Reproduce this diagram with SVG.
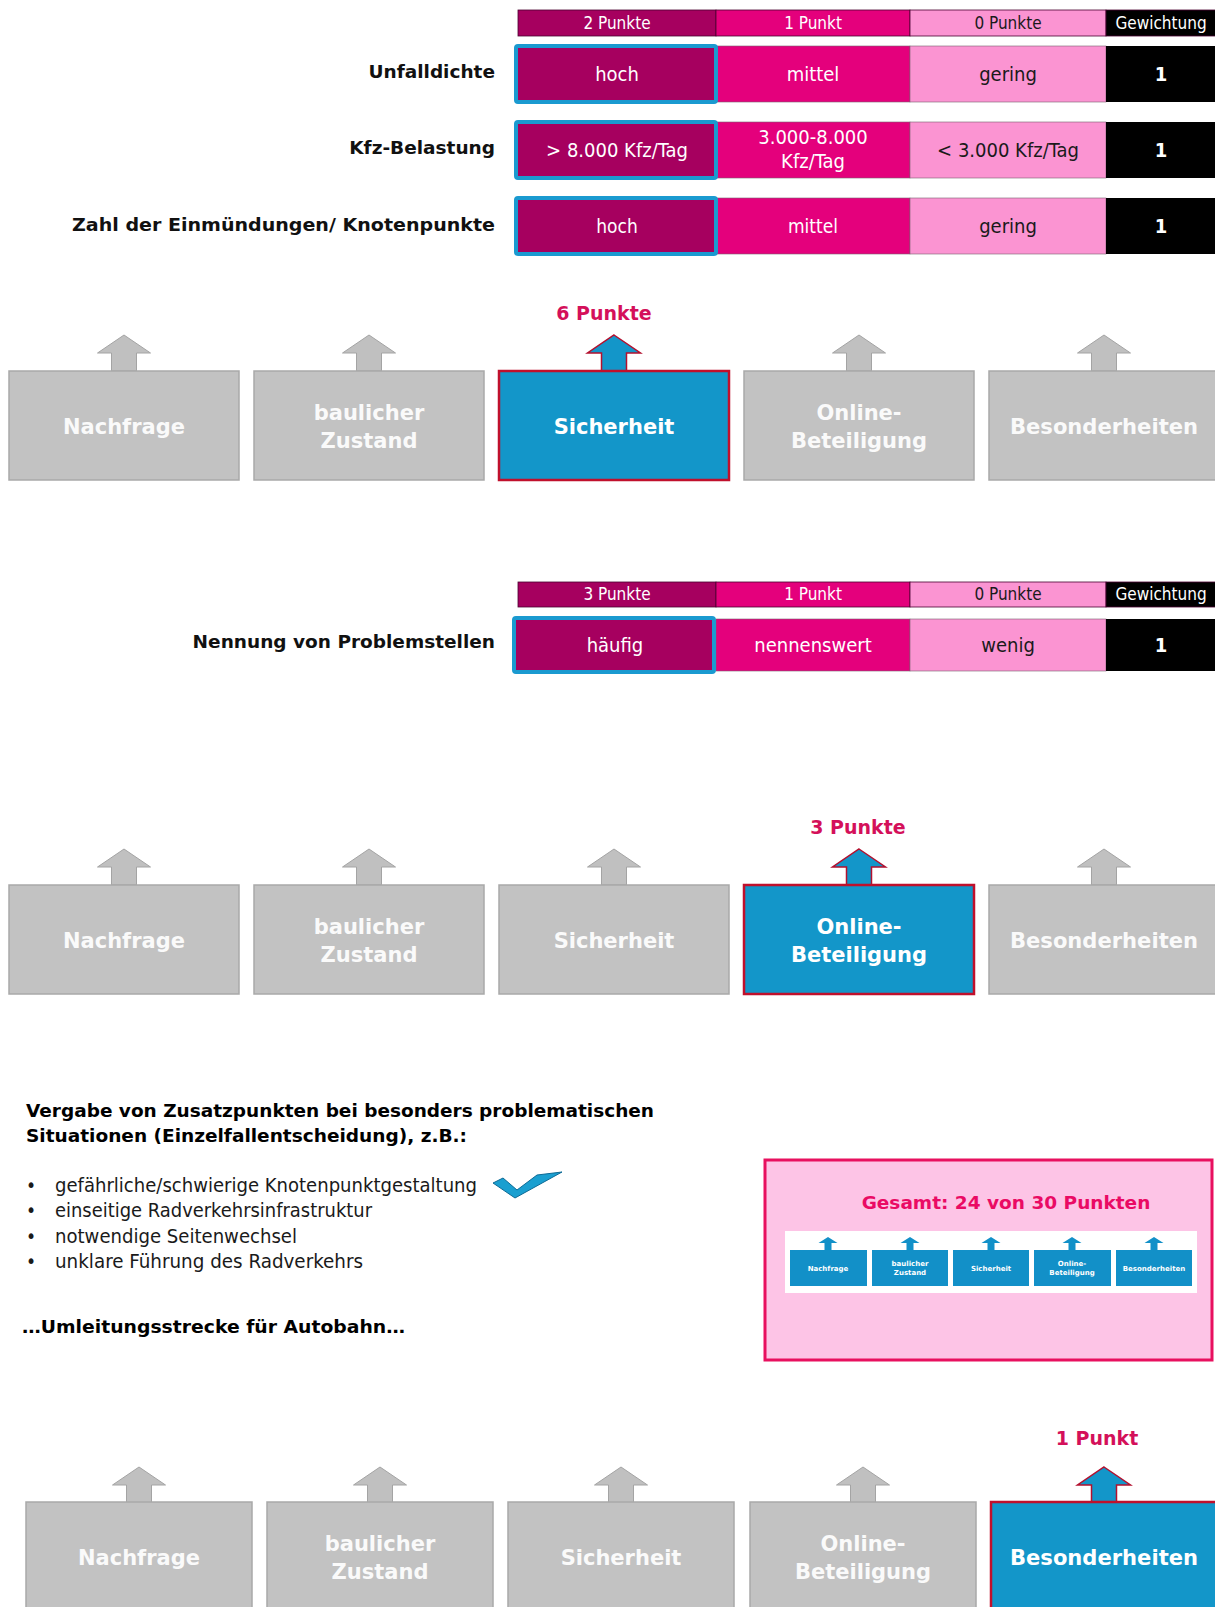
<svg xmlns="http://www.w3.org/2000/svg" xmlns:xlink="http://www.w3.org/1999/xlink" width="1215" height="1607" viewBox="0 0 1215 1607">
<style>
.c2{fill:#a6005f}
.c1{fill:#e4007c}
.c0{fill:#fb94d2}
.cw{fill:#000}
.hd{stroke:#4a0030;stroke-width:0.8}
.cell{stroke:#7a6070;stroke-width:0.6}
.sel{fill:none;stroke:#1a9ad0;stroke-width:4}
.ht{font-family:"DejaVu Sans Condensed","DejaVu Sans",sans-serif;font-size:17px;text-anchor:middle}
.ct{font-family:"DejaVu Sans Condensed","DejaVu Sans",sans-serif;font-size:20px;text-anchor:middle}
.w{fill:#fff}
.dk{fill:#1a1a1a}
.bw{font-family:"DejaVu Sans Condensed","DejaVu Sans",sans-serif;font-weight:bold;font-size:20px;text-anchor:middle;fill:#fff}
.lbl{font-family:"DejaVu Sans",sans-serif;font-weight:bold;font-size:18.5px;text-anchor:end;fill:#111}
.pts{font-family:"DejaVu Sans",sans-serif;font-weight:bold;font-size:19px;text-anchor:middle;fill:#d4105a}
.gbox{fill:#c2c2c2;stroke:#a9a9a9;stroke-width:1.5}
.bbox{fill:#1396c9;stroke:#c0102c;stroke-width:2.5}
.garr{fill:#c0c0c0;stroke:#a4a4a4;stroke-width:1}
.barr{fill:#1396c9;stroke:#b3102e;stroke-width:1.5}
.nt{font-family:"DejaVu Sans",sans-serif;font-weight:bold;font-size:21px;text-anchor:middle;fill:#fff}
.gt{fill:#fafafa}
.para{font-family:"DejaVu Sans",sans-serif;font-weight:bold;font-size:17.5px;fill:#000}
.bul{font-family:"DejaVu Sans Condensed","DejaVu Sans",sans-serif;font-size:19px;fill:#1a1a1a}
.sb{fill:#1290c8}
.sa{fill:#1290c8}
.st{font-family:"DejaVu Sans",sans-serif;font-weight:bold;font-size:7px;text-anchor:middle;fill:#fff}
</style>
<defs>
<path id="arr" d="M0,0 L26.5,18 L12.5,18 L12.5,36 L-12.5,36 L-12.5,18 L-26.5,18 Z"/>
<path id="sarr" d="M0,0 L9.5,6 L3.5,6 L3.5,13 L-3.5,13 L-3.5,6 L-9.5,6 Z"/>
</defs>

<!-- Table 1 -->
<g id="table1">
  <g id="t1-header">
    <rect class="c2 hd" x="518" y="10" width="198" height="26"/>
    <rect class="c1 hd" x="716" y="10" width="194" height="26"/>
    <rect class="c0 hd" x="910" y="10" width="196" height="26"/>
    <rect class="cw hd" x="1106" y="10" width="112" height="26"/>
    <text class="ht w" x="617" y="29">2 Punkte</text>
    <text class="ht w" x="813" y="29">1 Punkt</text>
    <text class="ht dk" x="1008" y="29">0 Punkte</text>
    <text class="ht w" x="1161" y="29">Gewichtung</text>
  </g>
  <g id="t1-row1">
    <text class="lbl" x="495" y="78">Unfalldichte</text>
    <rect class="c1 cell" x="716" y="46" width="194" height="56"/>
    <rect class="c0 cell" x="910" y="46" width="196" height="56"/>
    <rect class="cw" x="1106" y="46" width="112" height="56"/>
    <rect class="c2" x="516" y="46" width="200" height="56"/>
    <rect class="sel" x="516" y="46" width="200" height="56" rx="2"/>
    <text class="ct w" x="617" y="81">hoch</text>
    <text class="ct w" x="813" y="81">mittel</text>
    <text class="ct dk" x="1008" y="81">gering</text>
    <text class="bw" x="1161" y="81">1</text>
  </g>
  <g id="t1-row2">
    <text class="lbl" x="495" y="154">Kfz-Belastung</text>
    <rect class="c1 cell" x="716" y="122" width="194" height="56"/>
    <rect class="c0 cell" x="910" y="122" width="196" height="56"/>
    <rect class="cw" x="1106" y="122" width="112" height="56"/>
    <rect class="c2" x="516" y="122" width="200" height="56"/>
    <rect class="sel" x="516" y="122" width="200" height="56" rx="2"/>
    <text class="ct w" x="617" y="157">&gt; 8.000 Kfz/Tag</text>
    <text class="ct w" x="813" y="144">3.000-8.000</text>
    <text class="ct w" x="813" y="168">Kfz/Tag</text>
    <text class="ct dk" x="1008" y="157">&lt; 3.000 Kfz/Tag</text>
    <text class="bw" x="1161" y="157">1</text>
  </g>
  <g id="t1-row3">
    <text class="lbl" x="495" y="231" textLength="423" lengthAdjust="spacingAndGlyphs">Zahl der Einmündungen/ Knotenpunkte</text>
    <rect class="c1 cell" x="716" y="198" width="194" height="56"/>
    <rect class="c0 cell" x="910" y="198" width="196" height="56"/>
    <rect class="cw" x="1106" y="198" width="112" height="56"/>
    <rect class="c2" x="516" y="198" width="200" height="56"/>
    <rect class="sel" x="516" y="198" width="200" height="56" rx="2"/>
    <text class="ct w" x="617" y="233" style="font-size:19px">hoch</text>
    <text class="ct w" x="813" y="233" style="font-size:19px">mittel</text>
    <text class="ct dk" x="1008" y="233">gering</text>
    <text class="bw" x="1161" y="233">1</text>
  </g>
</g>

<!-- Row 1 of nodes -->
<text id="pts1" class="pts" x="604" y="320">6 Punkte</text>
<g id="arrows">
  <use xlink:href="#arr" class="garr" x="124" y="335"/>
  <use xlink:href="#arr" class="garr" x="369" y="335"/>
  <use xlink:href="#arr" class="barr" x="614" y="335"/>
  <use xlink:href="#arr" class="garr" x="859" y="335"/>
  <use xlink:href="#arr" class="garr" x="1104" y="335"/>

  <use xlink:href="#arr" class="garr" x="124" y="849"/>
  <use xlink:href="#arr" class="garr" x="369" y="849"/>
  <use xlink:href="#arr" class="garr" x="614" y="849"/>
  <use xlink:href="#arr" class="barr" x="859" y="849"/>
  <use xlink:href="#arr" class="garr" x="1104" y="849"/>

  <use xlink:href="#arr" class="garr" x="139" y="1467"/>
  <use xlink:href="#arr" class="garr" x="380" y="1467"/>
  <use xlink:href="#arr" class="garr" x="621" y="1467"/>
  <use xlink:href="#arr" class="garr" x="863" y="1467"/>
  <use xlink:href="#arr" class="barr" x="1104" y="1467"/>
</g>

<g id="r1-nachfrage"><rect class="gbox" x="9" y="371" width="230" height="109"/><text class="nt gt" x="124" y="434">Nachfrage</text></g>
<g id="r1-zustand"><rect class="gbox" x="254" y="371" width="230" height="109"/><text class="nt gt" x="369" y="420">baulicher</text><text class="nt gt" x="369" y="448">Zustand</text></g>
<g id="r1-sicherheit"><rect class="bbox" x="499" y="371" width="230" height="109"/><text class="nt" x="614" y="434">Sicherheit</text></g>
<g id="r1-online"><rect class="gbox" x="744" y="371" width="230" height="109"/><text class="nt gt" x="859" y="420">Online-</text><text class="nt gt" x="859" y="448">Beteiligung</text></g>
<g id="r1-besonderheiten"><rect class="gbox" x="989" y="371" width="230" height="109"/><text class="nt gt" x="1104" y="434" textLength="188" lengthAdjust="spacingAndGlyphs">Besonderheiten</text></g>

<!-- Table 2 -->
<g id="table2">
  <g id="t2-header">
    <rect class="c2 hd" x="518" y="582" width="198" height="25"/>
    <rect class="c1 hd" x="716" y="582" width="194" height="25"/>
    <rect class="c0 hd" x="910" y="582" width="196" height="25"/>
    <rect class="cw hd" x="1106" y="582" width="112" height="25"/>
    <text class="ht w" x="617" y="600">3 Punkte</text>
    <text class="ht w" x="813" y="600">1 Punkt</text>
    <text class="ht dk" x="1008" y="600">0 Punkte</text>
    <text class="ht w" x="1161" y="600">Gewichtung</text>
  </g>
  <g id="t2-row1">
    <text class="lbl" x="495" y="648">Nennung von Problemstellen</text>
    <rect class="c1 cell" x="716" y="619" width="194" height="52"/>
    <rect class="c0 cell" x="910" y="619" width="196" height="52"/>
    <rect class="cw" x="1106" y="619" width="112" height="52"/>
    <rect class="c2" x="514" y="618" width="200" height="54"/>
    <rect class="sel" x="514" y="618" width="200" height="54" rx="2"/>
    <text class="ct w" x="615" y="652">häufig</text>
    <text class="ct w" x="813" y="652">nennenswert</text>
    <text class="ct dk" x="1008" y="652">wenig</text>
    <text class="bw" x="1161" y="652">1</text>
  </g>
</g>

<!-- Row 2 of nodes -->
<text id="pts2" class="pts" x="858" y="834">3 Punkte</text>
<g id="r2-nachfrage"><rect class="gbox" x="9" y="885" width="230" height="109"/><text class="nt gt" x="124" y="948">Nachfrage</text></g>
<g id="r2-zustand"><rect class="gbox" x="254" y="885" width="230" height="109"/><text class="nt gt" x="369" y="934">baulicher</text><text class="nt gt" x="369" y="962">Zustand</text></g>
<g id="r2-sicherheit"><rect class="gbox" x="499" y="885" width="230" height="109"/><text class="nt gt" x="614" y="948">Sicherheit</text></g>
<g id="r2-online"><rect class="bbox" x="744" y="885" width="230" height="109"/><text class="nt" x="859" y="934">Online-</text><text class="nt" x="859" y="962">Beteiligung</text></g>
<g id="r2-besonderheiten"><rect class="gbox" x="989" y="885" width="230" height="109"/><text class="nt gt" x="1104" y="948" textLength="188" lengthAdjust="spacingAndGlyphs">Besonderheiten</text></g>

<!-- Text block -->
<g id="textblock">
  <text class="para" x="26" y="1117" textLength="628" lengthAdjust="spacingAndGlyphs">Vergabe von Zusatzpunkten bei besonders problematischen</text>
  <text class="para" x="26" y="1142" textLength="441" lengthAdjust="spacingAndGlyphs">Situationen (Einzelfallentscheidung), z.B.:</text>
  <text class="bul" x="26" y="1192">•</text>
  <text class="bul" x="55" y="1192" textLength="422" lengthAdjust="spacingAndGlyphs">gefährliche/schwierige Knotenpunktgestaltung</text>
  <text class="bul" x="26" y="1217">•</text>
  <text class="bul" x="55" y="1217" textLength="317" lengthAdjust="spacingAndGlyphs">einseitige Radverkehrsinfrastruktur</text>
  <text class="bul" x="26" y="1243">•</text>
  <text class="bul" x="55" y="1243" textLength="242" lengthAdjust="spacingAndGlyphs">notwendige Seitenwechsel</text>
  <text class="bul" x="26" y="1268">•</text>
  <text class="bul" x="55" y="1268" textLength="308" lengthAdjust="spacingAndGlyphs">unklare Führung des Radverkehrs</text>
  <polygon points="493,1183 503,1178 517,1190 537,1175 562,1172 515,1198" fill="#1a9fd0" stroke="#0d6a95" stroke-width="1"/>
  <text class="para" x="22" y="1333" textLength="383" lengthAdjust="spacingAndGlyphs">…Umleitungsstrecke für Autobahn…</text>
</g>

<!-- Summary panel -->
<g id="summary">
  <rect x="765" y="1160" width="447" height="200" fill="#fdc4e6" stroke="#e8105f" stroke-width="3"/>
  <text x="1006" y="1209" font-family="DejaVu Sans, sans-serif" font-weight="bold" font-size="18.5" text-anchor="middle" fill="#ea0a64">Gesamt: 24 von 30 Punkten</text>
  <rect x="785" y="1231" width="412" height="62" fill="#ffffff"/>
  <g id="s-nachfrage"><use xlink:href="#sarr" class="sa" x="828" y="1237"/><rect class="sb" x="790" y="1250" width="77" height="36"/><text class="st" x="828" y="1271">Nachfrage</text></g>
  <g id="s-zustand"><use xlink:href="#sarr" class="sa" x="910" y="1237"/><rect class="sb" x="872" y="1250" width="76" height="36"/><text class="st" x="910" y="1266">baulicher</text><text class="st" x="910" y="1275">Zustand</text></g>
  <g id="s-sicherheit"><use xlink:href="#sarr" class="sa" x="991" y="1237"/><rect class="sb" x="953" y="1250" width="76" height="36"/><text class="st" x="991" y="1271">Sicherheit</text></g>
  <g id="s-online"><use xlink:href="#sarr" class="sa" x="1072" y="1237"/><rect class="sb" x="1034" y="1250" width="77" height="36"/><text class="st" x="1072" y="1266">Online-</text><text class="st" x="1072" y="1275">Beteiligung</text></g>
  <g id="s-besonderheiten"><use xlink:href="#sarr" class="sa" x="1154" y="1237"/><rect class="sb" x="1116" y="1250" width="76" height="36"/><text class="st" x="1154" y="1271">Besonderheiten</text></g>
</g>

<!-- Row 3 of nodes -->
<text id="pts3" class="pts" x="1097" y="1445">1 Punkt</text>
<g id="r3-nachfrage"><rect class="gbox" x="26" y="1502" width="226" height="120"/><text class="nt gt" x="139" y="1565">Nachfrage</text></g>
<g id="r3-zustand"><rect class="gbox" x="267" y="1502" width="226" height="120"/><text class="nt gt" x="380" y="1551">baulicher</text><text class="nt gt" x="380" y="1579">Zustand</text></g>
<g id="r3-sicherheit"><rect class="gbox" x="508" y="1502" width="226" height="120"/><text class="nt gt" x="621" y="1565">Sicherheit</text></g>
<g id="r3-online"><rect class="gbox" x="750" y="1502" width="226" height="120"/><text class="nt gt" x="863" y="1551">Online-</text><text class="nt gt" x="863" y="1579">Beteiligung</text></g>
<g id="r3-besonderheiten"><rect class="bbox" x="991" y="1502" width="230" height="120"/><text class="nt" x="1104" y="1565" textLength="188" lengthAdjust="spacingAndGlyphs">Besonderheiten</text></g>
</svg>
